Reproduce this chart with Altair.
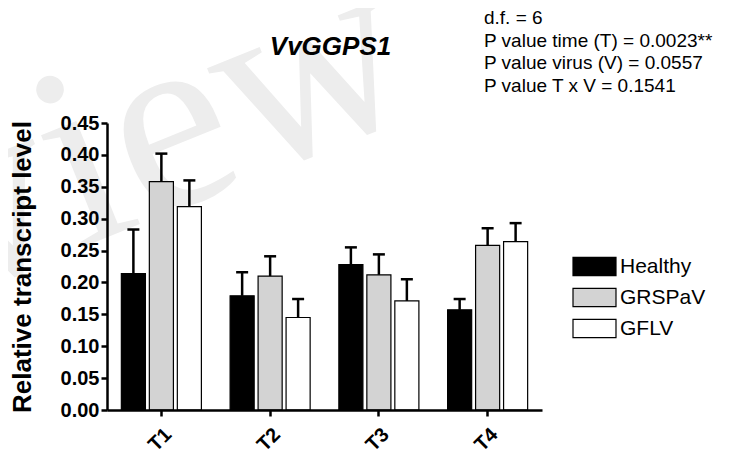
import altair as alt
import pandas as pd

times = ["T1", "T2", "T3", "T4"]
groups = ["Healthy", "GRSPaV", "GFLV"]
healthy_mean = [0.214, 0.179, 0.228, 0.157]
grspav_mean = [0.358, 0.210, 0.212, 0.258]
gflv_mean = [0.319, 0.145, 0.171, 0.264]
healthy_err = [0.069, 0.037, 0.027, 0.017]
grspav_err = [0.044, 0.031, 0.032, 0.027]
gflv_err = [0.041, 0.029, 0.034, 0.029]
colors = ["#000000", "#d3d3d3", "#ffffff"]
y_ticks = [0.0, 0.05, 0.1, 0.15, 0.2, 0.25, 0.3, 0.35, 0.4, 0.45]
stats_lines = ["d.f. = 6", "P value time (T) = 0.0023**", "P value virus (V) = 0.0557", "P value T x V = 0.1541"]
gene = "VvGGPS1"

rows = []
for g, means, errs in zip(groups, [healthy_mean, grspav_mean, gflv_mean], [healthy_err, grspav_err, gflv_err]):
    for t, m, e in zip(times, means, errs):
        rows.append({"time": t, "group": g, "mean": m, "top": m + e})
df = pd.DataFrame(rows)

FONT = "Liberation Sans"
W, H = 435, 287

x = alt.X("time:N", sort=times,
          scale=alt.Scale(paddingInner=0.264, paddingOuter=0.132),
          axis=alt.Axis(title=None, labelAngle=315, labelFontSize=20, labelFontWeight="bold",
                        labelColor="black", labelPadding=8, tickSize=6, tickWidth=2.5,
                        tickColor="black", domainColor="black", domainWidth=2.5, labelFont=FONT,
                        zindex=1))
xo = alt.XOffset("group:N", sort=groups, scale=alt.Scale(paddingInner=0.14, paddingOuter=0))
yscale = alt.Scale(domain=[0, 0.45], nice=False)
yaxis = alt.Axis(title="Relative transcript level", values=y_ticks, labelOverlap=False,
                 format=".2f", labelFontSize=20, labelFontWeight="bold", labelColor="black",
                 labelFont=FONT, labelPadding=2, tickSize=6, tickWidth=2.5, tickColor="black",
                 domainColor="black", domainWidth=2.5, grid=False, zindex=1,
                 titleFontSize=26, titleFontWeight="bold", titleFont=FONT, titleColor="black",
                 titleX=-85, titleY=H / 2, titleAngle=270, titleAlign="center",
                 titleBaseline="middle", titleLimit=1000)

bars = alt.Chart(df).mark_bar(stroke="black", strokeWidth=1.2).encode(
    x=x, xOffset=xo,
    y=alt.Y("mean:Q", scale=yscale, axis=yaxis),
    color=alt.Color("group:N", sort=groups, scale=alt.Scale(domain=groups, range=colors),
                    legend=alt.Legend(title=None, orient="none", legendX=476, legendY=132,
                                      symbolType="M-2,-0.84H2V0.84H-2Z", symbolSize=462,
                                      symbolStrokeColor="black", symbolStrokeWidth=1.2,
                                      symbolOpacity=1, labelFontSize=21, labelFont=FONT,
                                      labelColor="black", labelOffset=14, rowPadding=8,
                                      padding=0)),
)

rules = alt.Chart(df).mark_rule(color="black", strokeWidth=2.5).encode(
    x=x, xOffset=xo, y=alt.Y("mean:Q", scale=yscale, axis=yaxis), y2="top:Q")
caps = alt.Chart(df).mark_tick(color="black", thickness=2.5, size=12, opacity=1).encode(
    x=x, xOffset=xo, y=alt.Y("top:Q", scale=yscale, axis=yaxis))

stats = alt.Chart(pd.DataFrame({"t": ["\n".join(stats_lines)]})).mark_text(
    align="left", baseline="top", fontSize=19, font=FONT, color="black",
    lineBreak="\n", lineHeight=22.5).encode(
    text="t:N", x=alt.value(377), y=alt.value(-114))

title = alt.Chart(pd.DataFrame({"t": [gene]})).mark_text(
    align="center", baseline="middle", fontSize=26, font=FONT, fontStyle="italic",
    fontWeight="bold", color="black").encode(
    text="t:N", x=alt.value(W / 2 + 6), y=alt.value(-76))

watermark = alt.Chart(pd.DataFrame({"t": ["view"]})).mark_text(
    align="left", baseline="alphabetic", fontSize=260, font="Liberation Serif", color="#ededed",
    angle=338).encode(text="t:N", x=alt.value(-150), y=alt.value(175))

chart = alt.layer(watermark, bars, rules, caps, stats, title).properties(
    width=W, height=H,
    autosize=alt.AutoSizeParams(type="none"),
    padding={"left": 99, "top": 115, "right": 193, "bottom": 44},
).configure_view(stroke=None)

chart.save("out.html", embed_options={"renderer": "svg", "actions": False})
